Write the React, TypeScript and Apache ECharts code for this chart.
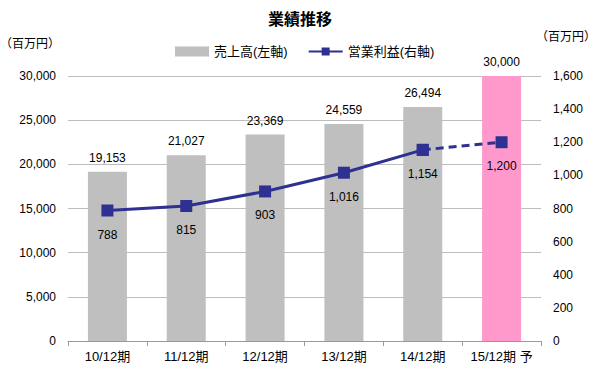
import React, { useEffect, useRef } from "react";
import * as echarts from "echarts";

const categories = ["10/12期", "11/12期", "12/12期", "13/12期", "14/12期", "15/12期 予"];
const sales = [19153, 21027, 23369, 24559, 26494, 30000];
const profit = [788, 815, 903, 1016, 1154, 1200];
const leftTicks = { min: 0, max: 30000, interval: 5000 };
const rightTicks = { min: 0, max: 1600, interval: 200 };
const forecastIndex = 5;
const unitLabel = "（百万円）";

const FONT = "'Liberation Sans', 'Noto Sans CJK JP', sans-serif";
const LINE_COLOR = "#2E3192";

export default function App() {
  const ref = useRef<HTMLDivElement>(null);
  useEffect(() => {
    if (!ref.current) return;
    const chart = echarts.init(ref.current, undefined, { renderer: "svg" });
    const solid = profit.map((v, i) => (i < forecastIndex ? v : null));
    const dashed = profit.map((v, i) => (i >= forecastIndex - 1 ? v : null));
    chart.setOption({
      animation: false,
      textStyle: { fontFamily: FONT },
      title: {
        text: "業績推移",
        left: "center",
        top: 6,
        textStyle: { fontSize: 16, fontWeight: "bold", color: "#000", fontFamily: FONT },
      },
      legend: {
        top: 40,
        left: 170,
        itemGap: 20,
        itemWidth: 34,
        itemHeight: 10,
        textStyle: { fontSize: 13, color: "#000", fontFamily: FONT },
        data: [
          { name: "売上高(左軸)", icon: "rect", itemStyle: { color: "#BFBFBF" } },
          { name: "営業利益(右軸)" },
        ],
      },
      graphic: [
        { type: "text", left: 0, top: 38, style: { text: unitLabel, fontSize: 12, fill: "#000", fontFamily: FONT } },
        { type: "text", left: 536, top: 31, style: { text: unitLabel, fontSize: 12, fill: "#000", fontFamily: FONT } },
      ],
      grid: { left: 68, right: 59, top: 76, bottom: 29 },
      xAxis: {
        type: "category",
        data: categories,
        axisLine: { lineStyle: { color: "#999" } },
        axisTick: { show: true, length: 5, lineStyle: { color: "#999" } },
        axisLabel: { color: "#000", fontSize: 13, margin: 9, interval: 0, fontFamily: FONT },
      },
      yAxis: [
        {
          type: "value",
          ...leftTicks,
          axisLine: { show: false },
          axisTick: { show: false },
          splitLine: { lineStyle: { color: "#BDBDBD", width: 1 } },
          axisLabel: {
            color: "#000",
            fontSize: 12,
            margin: 12,
            fontFamily: FONT,
            formatter: (v: number) => v.toLocaleString("en-US"),
          },
        },
        {
          type: "value",
          ...rightTicks,
          position: "right",
          axisLine: { show: false },
          axisTick: { show: false },
          splitLine: { show: false },
          axisLabel: {
            color: "#000",
            fontSize: 12,
            margin: 12,
            fontFamily: FONT,
            formatter: (v: number) => v.toLocaleString("en-US"),
          },
        },
      ],
      series: [
        {
          name: "売上高(左軸)",
          type: "bar",
          yAxisIndex: 0,
          barWidth: 39,
          itemStyle: { color: "#BFBFBF" },
          data: sales.map((v, i) =>
            i === forecastIndex ? { value: v, itemStyle: { color: "#FF99CC" } } : v
          ),
          label: {
            show: true,
            position: "top",
            distance: 8,
            color: "#000",
            fontSize: 12,
            fontFamily: FONT,
            formatter: (p: any) => Number(p.value).toLocaleString("en-US"),
          },
        },
        {
          name: "営業利益(右軸)",
          type: "line",
          yAxisIndex: 1,
          data: solid,
          symbol: "rect",
          symbolSize: 12,
          itemStyle: { color: LINE_COLOR },
          lineStyle: { color: LINE_COLOR, width: 3 },
          label: {
            show: true,
            position: "bottom",
            distance: 12,
            color: "#000",
            fontSize: 12,
            fontFamily: FONT,
            formatter: (p: any) => Number(p.value).toLocaleString("en-US"),
          },
          z: 3,
        },
        {
          name: "営業利益予",
          type: "line",
          yAxisIndex: 1,
          data: dashed,
          symbol: "rect",
          symbolSize: 12,
          showSymbol: true,
          itemStyle: { color: LINE_COLOR },
          lineStyle: { color: LINE_COLOR, width: 3, type: [8, 5] },
          label: {
            show: true,
            position: "bottom",
            distance: 12,
            color: "#000",
            fontSize: 12,
            fontFamily: FONT,
            formatter: (p: any) =>
              p.dataIndex === forecastIndex ? Number(p.value).toLocaleString("en-US") : "",
          },
          z: 2,
        },
      ],
    });
    return () => chart.dispose();
  }, []);
  return <div ref={ref} style={{ width: 600, height: 370, position: "absolute", left: 0, top: 0 }} />;
}
